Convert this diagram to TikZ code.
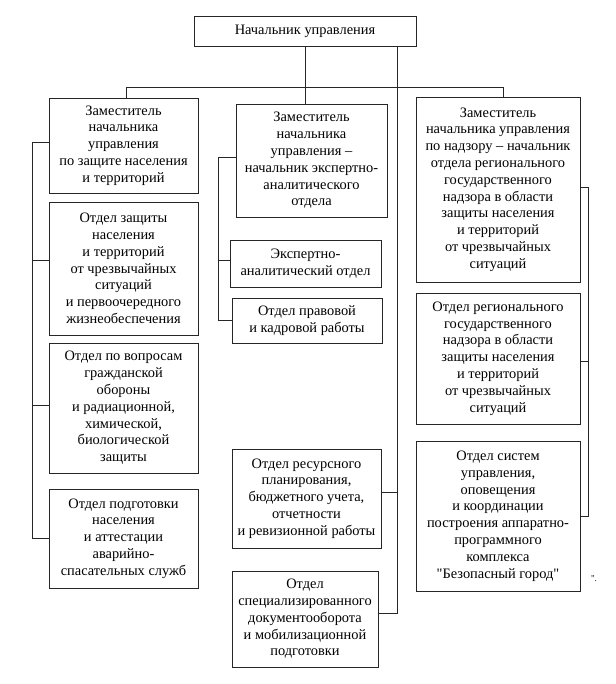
\documentclass[tikz,border=0pt]{standalone}
\usepackage{fontspec}
\setmainfont{Liberation Serif}[Ligatures=TeXOff]
\begin{document}
\begin{tikzpicture}[x=1pt,y=-1pt,
  box/.style={draw=black!85, line width=0.9pt, rectangle, inner sep=0pt, align=center,
    font=\fontsize{14.4}{16.8}\selectfont},
  conn/.style={draw=black!85, line width=0.9pt}]
\useasboundingbox[fill=white] (0,0) rectangle (615,684);
% boxes
\node[box, minimum width=222pt, minimum height=30pt] (top) at (305,31) {Начальник управления};
\node[box, minimum width=149pt, minimum height=95pt] (l1) at (123.5,145.5) {Заместитель\\начальника\\управления\\по защите населения\\и территорий};
\node[box, minimum width=149pt, minimum height=133pt] (l2) at (123.5,268.5) {Отдел защиты\\населения\\и территорий\\от чрезвычайных\\ситуаций\\и первоочередного\\жизнеобеспечения};
\node[box, minimum width=149pt, minimum height=130pt] (l3) at (123.5,408) {Отдел по вопросам\\гражданской\\обороны\\и радиационной,\\химической,\\биологической\\защиты};
\node[box, minimum width=149pt, minimum height=99pt] (l4) at (123.5,538.5) {Отдел подготовки\\населения\\и аттестации\\аварийно-\\спасательных служб};
\node[box, minimum width=151pt, minimum height=113pt] (m1) at (311.5,160.5) {Заместитель\\начальника\\управления –\\начальник экспертно-\\аналитического\\отдела};
\node[box, minimum width=151pt, minimum height=47pt] (m2) at (305.5,263.5) {Экспертно-\\аналитический отдел};
\node[box, minimum width=150pt, minimum height=45pt] (m3) at (307,320.5) {Отдел правовой\\и кадровой работы};
\node[box, minimum width=149pt, minimum height=99pt] (m4) at (306.5,498.5) {Отдел ресурсного\\планирования,\\бюджетного учета,\\отчетности\\и ревизионной работы};
\node[box, minimum width=146pt, minimum height=96pt] (m5) at (305,619) {Отдел\\специализированного\\документооборота\\и мобилизационной\\подготовки};
\node[box, minimum width=164pt, minimum height=185pt] (r1) at (498,189.5) {Заместитель\\начальника управления\\по надзору – начальник\\отдела регионального\\государственного\\надзора в области\\защиты населения\\и территорий\\от чрезвычайных\\ситуаций};
\node[box, minimum width=164pt, minimum height=131pt] (r2) at (498,358.5) {Отдел регионального\\государственного\\надзора в области\\защиты населения\\и территорий\\от чрезвычайных\\ситуаций};
\node[box, minimum width=164pt, minimum height=150pt] (r3) at (498,516) {Отдел систем\\управления,\\оповещения\\и координации\\построения аппаратно-\\программного\\комплекса\\"Безопасный город"};
\node[font=\fontsize{9}{10}\selectfont, inner sep=0pt] (tail) at (594,579) {".};
% bus coordinates
\coordinate (hl) at (126,87);
\coordinate (hr) at (503,87);
\coordinate (lx) at (32,0);
\coordinate (mx) at (218,0);
\coordinate (vx) at (397,0);
\coordinate (rx) at (588,0);
% top level
\draw[conn] (top.south) -- (top.south |- hl);
\draw[conn] (hl |- l1.north) -- (hl) -- (hr) -- (hr |- r1.north);
\draw[conn] (top.south |- hl) -- (top.south |- m1.north);
% right-of-centre line to lower middle departments
\draw[conn] (vx |- top.south) |- ([yshift=6pt]m5.east);
\draw[conn] ([yshift=6pt]m4.east) -- ([yshift=6pt]m4.east -| vx);
% left bus
\draw[conn] ([yshift=3pt]l1.west) -- ([yshift=3pt]l1.west -| lx) |- (l4.west);
\draw[conn] ([yshift=8.5pt]l2.west) -- ([yshift=8.5pt]l2.west -| lx);
\draw[conn] ([yshift=3pt]l3.west) -- ([yshift=3pt]l3.west -| lx);
% middle bus
\draw[conn] ([yshift=3pt]m1.west) -- ([yshift=3pt]m1.west -| mx) |- (m3.west);
\draw[conn] ([yshift=3.5pt]m2.west) -- ([yshift=3.5pt]m2.west -| mx);
% right bus
\draw[conn] ([yshift=2pt]r1.east) -- ([yshift=2pt]r1.east -| rx) |- (r3.east);
\draw[conn] ([yshift=-2.5pt]r2.east) -- ([yshift=-2.5pt]r2.east -| rx);
\end{tikzpicture}
\end{document}
